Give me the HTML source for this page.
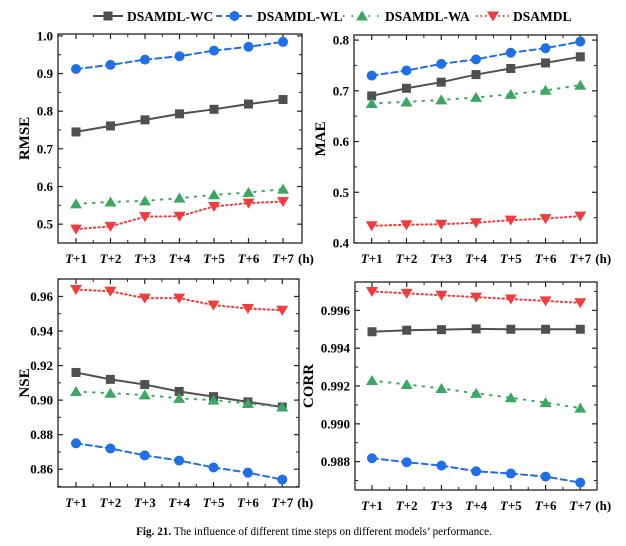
<!DOCTYPE html>
<html><head><meta charset="utf-8"><style>
body{margin:0;background:#fff;width:626px;height:546px;overflow:hidden}
svg{display:block;font-family:"Liberation Serif",serif}
</style></head><body>
<svg id="fig" width="626" height="546">
<g id="legend"></g>
<text x="314" y="535" text-anchor="middle" font-size="11.2"><tspan font-weight="bold">Fig. 21.</tspan>  The influence of different time steps on different models’ performance.</text>
</svg>
<script>
const categories = ["1","2","3","4","5","6","7"];
const seriesNames = ["DSAMDL-WC","DSAMDL-WL","DSAMDL-WA","DSAMDL"];
const rmseWC = [0.745,0.761,0.777,0.793,0.805,0.819,0.831];
const rmseWL = [0.912,0.923,0.937,0.946,0.961,0.971,0.984];
const rmseWA = [0.554,0.559,0.562,0.569,0.578,0.584,0.593];
const rmseD  = [0.487,0.494,0.520,0.521,0.547,0.556,0.560];
const maeWC = [0.690,0.705,0.717,0.732,0.744,0.755,0.767];
const maeWL = [0.730,0.740,0.753,0.762,0.775,0.784,0.797];
const maeWA = [0.675,0.678,0.682,0.687,0.693,0.701,0.711];
const maeD  = [0.434,0.436,0.437,0.440,0.445,0.448,0.453];
const nseWC = [0.916,0.912,0.909,0.905,0.902,0.899,0.896];
const nseWL = [0.875,0.872,0.868,0.865,0.861,0.858,0.854];
const nseWA = [0.905,0.904,0.903,0.901,0.900,0.898,0.896];
const nseD  = [0.964,0.963,0.959,0.959,0.955,0.953,0.952];
const corrWC = [0.99487,0.99495,0.99498,0.99502,0.99500,0.99500,0.99500];
const corrWL = [0.98818,0.98797,0.98779,0.98749,0.98737,0.98721,0.98689];
const corrWA = [0.99229,0.99208,0.99187,0.99161,0.99138,0.99112,0.99083];
const corrD  = [0.99700,0.99690,0.99680,0.99670,0.99660,0.99650,0.99640];
const rmseTicks = ["0.5","0.6","0.7","0.8","0.9","1.0"];
const maeTicks = ["0.4","0.5","0.6","0.7","0.8"];
const nseTicks = ["0.86","0.88","0.90","0.92","0.94","0.96"];
const corrTicks = ["0.988","0.990","0.992","0.994","0.996"];

const NS="http://www.w3.org/2000/svg";
const svg=document.getElementById('fig');
const styles=[
 {c:"#505050",dash:"",m:"square"},
 {c:"#1f6fe6",dash:"6,4",m:"circle"},
 {c:"#3aa860",dash:"1.5,7",m:"tri"},
 {c:"#f03c3c",dash:"1.5,3",m:"itri"}];
function el(t,a,p){const e=document.createElementNS(NS,t);for(const k in a)e.setAttribute(k,a[k]);(p||svg).appendChild(e);return e;}
function marker(g,type,x,y,c){
 let e;
 if(type==="square")e=el('rect',{x:x-4.5,y:y-4.5,width:9,height:9,fill:c},g);
 else if(type==="circle")e=el('circle',{cx:x,cy:y,r:5,fill:c},g);
 else if(type==="tri")e=el('polygon',{points:`${x},${y-5.5} ${x+6},${y+4.5} ${x-6},${y+4.5}`,fill:c},g);
 else e=el('polygon',{points:`${x},${y+5.5} ${x+6},${y-4.5} ${x-6},${y-4.5}`,fill:c},g);
 return e;
}
function panel(o){
 const g=el('g',{});
 
 
 const X=i=>o.x1+(o.x7-o.x1)*i/6;
 const Y=v=>o.b-(v-o.ymin)/(o.ymax-o.ymin)*(o.b-o.t);
 o.ticks.forEach(s=>{const v=parseFloat(s),y=Y(v);
  el('line',{x1:o.l,x2:o.l+5,y1:y,y2:y,stroke:"#222","stroke-width":1.2},g);
  el('line',{x1:o.r,x2:o.r-5,y1:y,y2:y,stroke:"#222","stroke-width":1.2},g);
  const tx=el('text',{x:o.l-5,y:y+4.5,"text-anchor":"end","font-size":13,"font-weight":"bold"},g);tx.textContent=s;
  
  
 });
 const step=parseFloat(o.ticks[1])-parseFloat(o.ticks[0]);
 for(let v=parseFloat(o.ticks[0])-step/2;v<o.ymax;v+=step){if(v<=o.ymin)continue;const y=Y(v);
  el('line',{x1:o.l,x2:o.l+3,y1:y,y2:y,stroke:"#222"},g);el('line',{x1:o.r,x2:o.r-3,y1:y,y2:y,stroke:"#222"},g);}
 categories.forEach((c,i)=>{const x=X(i);
  el('line',{x1:x,x2:x,y1:o.b,y2:o.b-5,stroke:"#222","stroke-width":1.2},g);
  el('line',{x1:x,x2:x,y1:o.t,y2:o.t+5,stroke:"#222","stroke-width":1.2},g);
  if(i<6){const xm=X(i+0.5);el('line',{x1:xm,x2:xm,y1:o.b,y2:o.b-3,stroke:"#222"},g);el('line',{x1:xm,x2:xm,y1:o.t,y2:o.t+3,stroke:"#222"},g);}
  const tx=el('text',{x:x,y:o.b+20,"text-anchor":"middle","font-size":13,"font-weight":"bold"},g);
  tx.innerHTML='<tspan font-style="italic">T</tspan>+'+c;
  
  
 });
 const h=el('text',{x:X(6)+15,y:o.b+20,"font-size":13,"font-weight":"bold"},g);h.textContent="(h)";
 
 
 el('rect',{x:o.l,y:o.t,width:o.r-o.l,height:o.b-o.t,fill:"none",stroke:"#222","stroke-width":1.3},g);
 const yt=el('text',{x:0,y:0,transform:`translate(${o.l-o.toff},${(o.t+o.b)/2}) rotate(-90)`,"text-anchor":"middle","font-size":15,"font-weight":"bold"},g);
 yt.textContent=o.title;
 
 
 o.data.forEach((arr,si)=>{const s=styles[si];
  const p=el('polyline',{points:arr.map((v,i)=>X(i)+','+Y(v)).join(' '),fill:"none",stroke:s.c,"stroke-width":2,"stroke-dasharray":s.dash,"stroke-linecap":s.dash?"round":"butt"},g);
  
  
  arr.forEach((v,i)=>{const m=marker(g,s.m,X(i),Y(v),s.c);
   
   });
 });
}
panel({name:"rmse",title:"RMSE",toff:29,l:58,r:302,t:34,b:243,x1:76,x7:283,ymin:0.45,ymax:1.005,ticks:rmseTicks,data:[rmseWC,rmseWL,rmseWA,rmseD]});
panel({name:"mae",title:"MAE",toff:29,l:354,r:597,t:35,b:243,x1:371.7,x7:580.3,ymin:0.4,ymax:0.81,ticks:maeTicks,data:[maeWC,maeWL,maeWA,maeD]});
panel({name:"nse",title:"NSE",toff:29,l:58,r:299,t:279,b:487,x1:76,x7:282.3,ymin:0.8497,ymax:0.9701,ticks:nseTicks,data:[nseWC,nseWL,nseWA,nseD]});
panel({name:"corr",title:"CORR",toff:42,l:355,r:597,t:282,b:490,x1:372,x7:580.3,ymin:0.9865,ymax:0.9975,ticks:corrTicks,data:[corrWC,corrWL,corrWA,corrD]});
const lg=document.getElementById('legend');
const lx=[[93,123,127],[216,253,257],[343,381,385],[476,510,513]];
seriesNames.forEach((n,i)=>{const s=styles[i],[a,b,t]=lx[i];
 const g=el('g',{},lg);
 
 
 el('line',{x1:a,x2:b,y1:16,y2:16,stroke:s.c,"stroke-width":2,"stroke-dasharray":s.dash},g);
 marker(g,s.m,(a+b)/2,16,s.c);
 const tx=el('text',{x:t,y:21,"font-size":13.5,"font-weight":"bold"},g);tx.textContent=n;
});
</script>
</body></html>
